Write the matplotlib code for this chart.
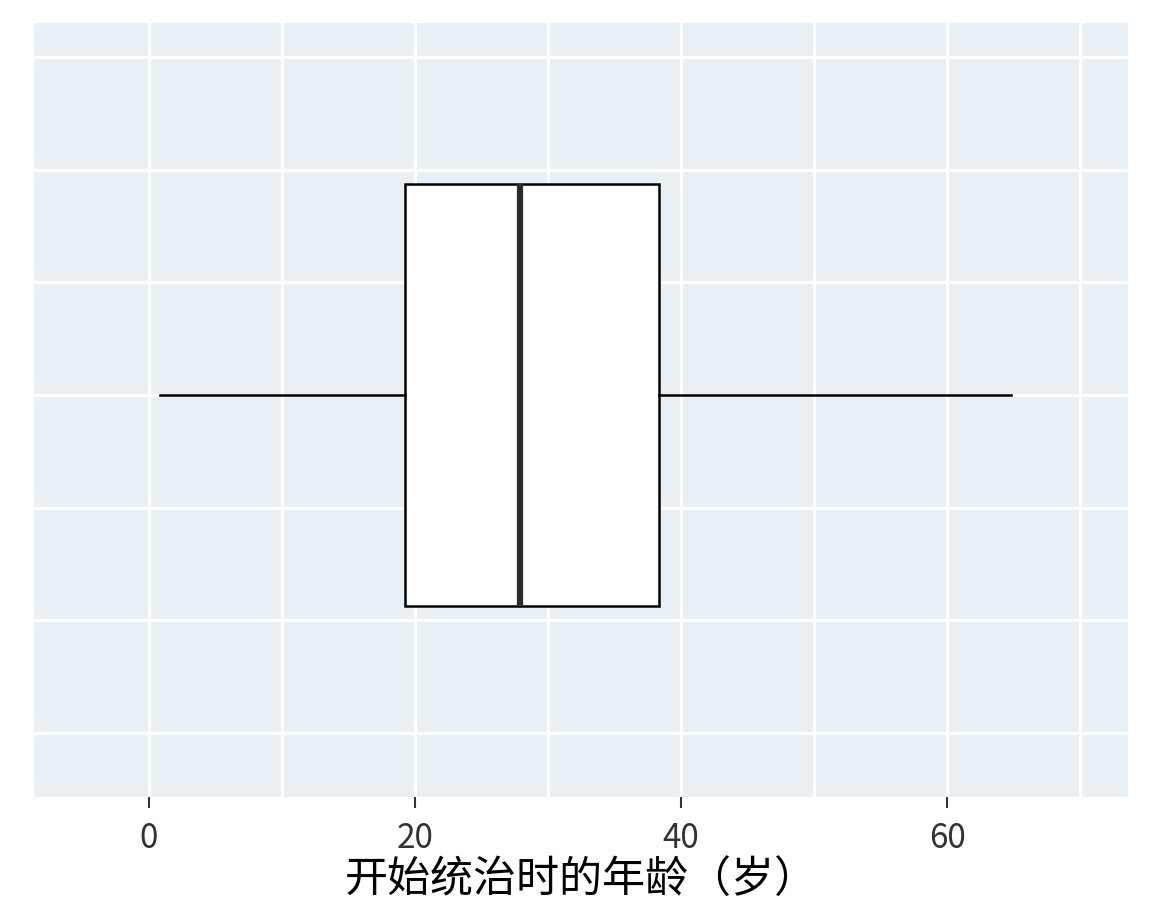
import matplotlib
matplotlib.use("Agg")
import matplotlib.pyplot as plt
from matplotlib.patches import Rectangle

# summary statistics (age at start of reign, years)
whisker_low = 0.8
q1 = 19.25
median = 27.9
q3 = 38.35
whisker_high = 64.8

x_ticks = [0, 20, 40, 60]
x_minor = [10, 30, 50, 70]
y_grid = [-0.6, -0.4, -0.2, 0.0, 0.2, 0.4, 0.6]
xlabel = "开始统治时的年龄（岁）"

bg = "#e8f0f5"
plt.rcParams["font.family"] = ["Noto Sans CJK SC", "DejaVu Sans"]

fig = plt.figure(figsize=(11.52, 9.22), dpi=100)
ax = fig.add_axes([0.0295, 0.1356, 0.9497, 0.8395])
ax.set_facecolor(bg)
for s in ax.spines.values():
    s.set_visible(False)

ax.set_xlim(-8.65, 73.6)
ax.set_ylim(-0.714, 0.661)

ax.set_xticks(x_ticks)
ax.set_xticks(x_minor, minor=True)
ax.set_yticks(y_grid)
ax.set_yticklabels([])
ax.tick_params(axis="y", length=0)
ax.tick_params(axis="x", which="major", length=8, width=1.5, color="#333333",
               labelsize=24, labelcolor="#333333", pad=9)
ax.tick_params(axis="x", which="minor", length=0)
for lab in ax.get_xticklabels():
    lab.set_fontweight("light")
ax.grid(True, which="both", color="white", linewidth=2.2)
ax.set_axisbelow(True)

# box
half = 0.375
ax.add_patch(Rectangle((q1, -half), q3 - q1, 2 * half, facecolor="white",
                       edgecolor="black", linewidth=1.8, zorder=3))
ax.plot([median, median], [-half, half], color="#2b2b2b", linewidth=4.5,
        solid_capstyle="butt", zorder=4)
ax.plot([whisker_low, q1], [0, 0], color="black", linewidth=1.8, zorder=3)
ax.plot([q3, whisker_high], [0, 0], color="black", linewidth=1.8, zorder=3)

ax.set_xlabel(xlabel, fontsize=31, color="black", labelpad=2)

fig.savefig("out.png", dpi=100)
